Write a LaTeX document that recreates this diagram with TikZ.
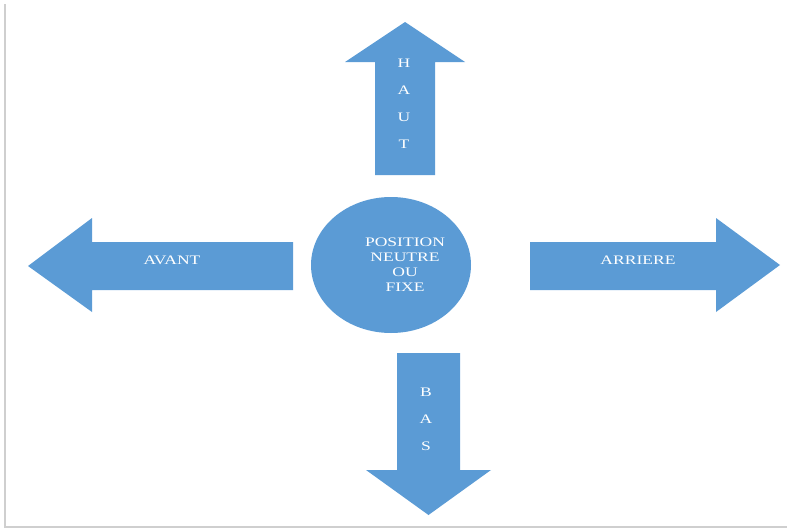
\documentclass[tikz,border=0pt]{standalone}
\usepackage{fontspec}
\setmainfont{Liberation Serif}
\definecolor{arrowblue}{HTML}{5B9BD5}
\definecolor{framegray}{HTML}{CFCFCF}
\newcommand{\widetxt}[1]{\scalebox{1.35}[1]{#1}}
\begin{document}
\begin{tikzpicture}[x=1pt,y=-1pt,
  shapefill/.style={fill=arrowblue},
  lbl/.style={text=white,font=\fontsize{13}{15}\selectfont,inner sep=0pt,align=center},
  vlbl/.style={text=white,font=\fontsize{13}{27}\selectfont,inner sep=0pt,align=center},
]
\useasboundingbox (0,0) rectangle (790,530);
\draw[framegray,line width=1.5pt] (5,4) -- (5,527) -- (787,527);
% up arrow
\fill[shapefill] (375,175) -- (375,62) -- (345,62) -- (405,22) -- (465,62) -- (435,62) -- (435,175) -- cycle;
% down arrow
\fill[shapefill] (397,353) -- (460,353) -- (460,470) -- (491,470) -- (428.5,515) -- (366,470) -- (397,470) -- cycle;
% left arrow
\fill[shapefill] (293,242) -- (92,242) -- (92,218) -- (28,266) -- (92,312) -- (92,290) -- (293,290) -- cycle;
% right arrow
\fill[shapefill] (530,242) -- (716,242) -- (716,218) -- (780,265) -- (716,312) -- (716,290) -- (530,290) -- cycle;
% centre ellipse
\fill[shapefill] (391,265) ellipse [x radius=80, y radius=68];
% labels
\node[lbl] (centre) at (405,264.5) {\widetxt{POSITION}\\\widetxt{NEUTRE}\\\widetxt{OU}\\\widetxt{FIXE}};
\node[vlbl] (haut) at (404,103.5) {\widetxt{H}\\\widetxt{A}\\\widetxt{U}\\\widetxt{T}};
\node[vlbl] (bas) at (426,419.5) {\widetxt{B}\\\widetxt{A}\\\widetxt{S}};
\node[lbl] (avant) at (172,260) {\widetxt{AVANT}};
\node[lbl] (arriere) at (638,260) {\widetxt{ARRIERE}};
\end{tikzpicture}
\end{document}
